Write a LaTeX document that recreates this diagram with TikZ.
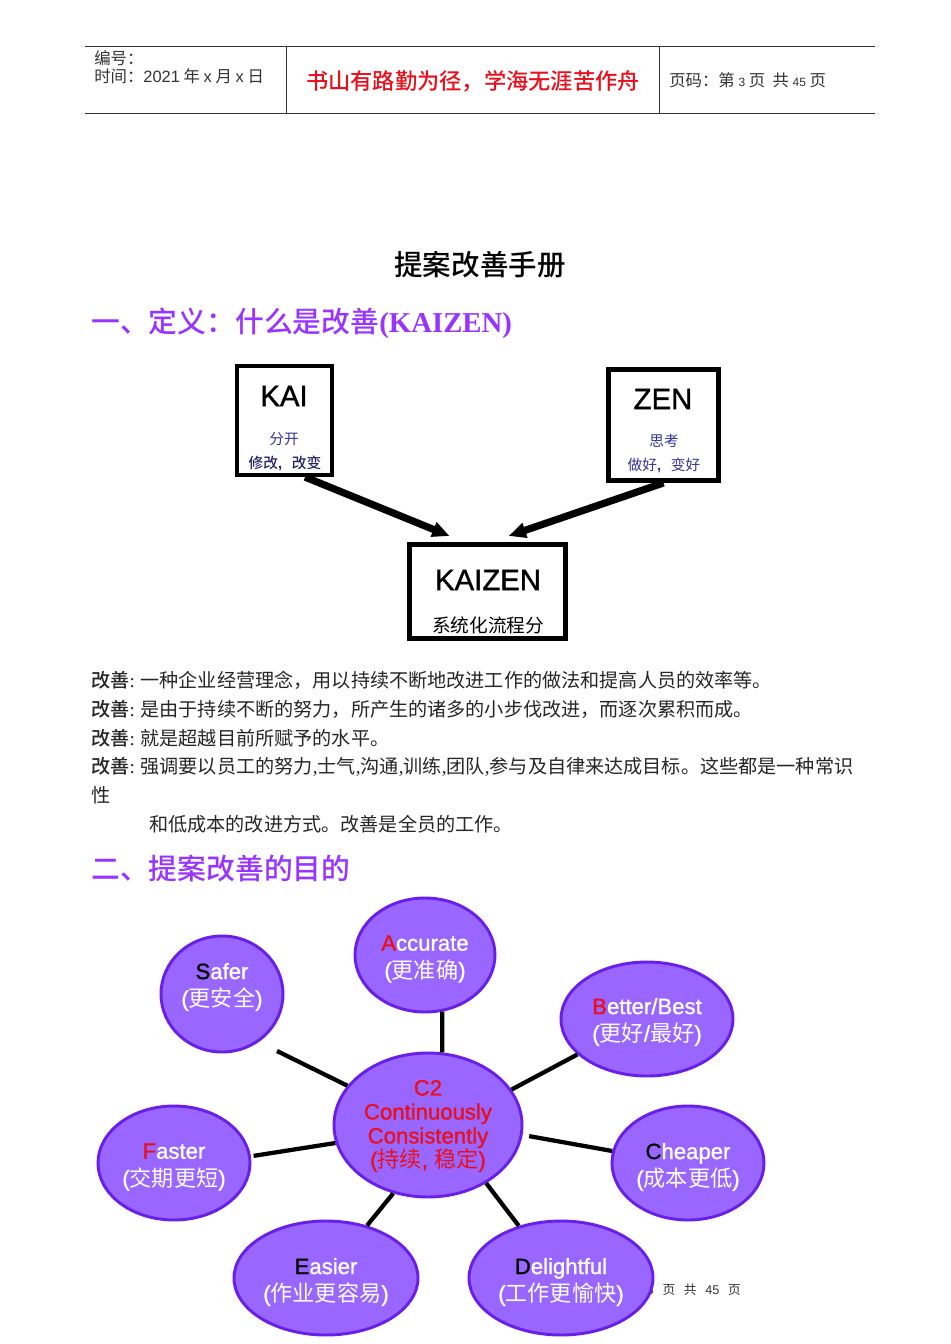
\documentclass[tikz,border=0pt]{standalone}
\usepackage{fontspec}
\setmainfont{Liberation Serif}
\setsansfont{Liberation Sans}
\newfontfamily\cjk{Noto Sans CJK SC}
\newfontfamily\cjkmed{Noto Sans CJK SC Medium}
\newfontfamily\sfheavy[FakeBold=1.2]{Liberation Sans}
\usetikzlibrary{calc}
\usetikzlibrary{positioning}
\usetikzlibrary{arrows.meta}
\usetikzlibrary{shapes.geometric}
\definecolor{headred}{HTML}{E8101C}
\definecolor{headpurple}{HTML}{9933FF}
\definecolor{bubblefill}{HTML}{9966FF}
\definecolor{bubbleline}{HTML}{6A1FE8}
\definecolor{kainavy}{HTML}{333399}
\definecolor{headline}{HTML}{333333}
\newcommand{\redfirst}[1]{\textcolor{headred}{#1}}
\begin{document}
\begin{tikzpicture}[x=0.75pt,y=-0.75pt]
\tikzstyle{headtext}=[anchor=west,inner sep=0,font=\fontsize{12.3pt}{14pt}\selectfont\cjk,text=headline]
\tikzstyle{heading}=[anchor=west,inner sep=0,text=headpurple,font=\fontsize{21.6pt}{24pt}\selectfont\cjkmed]
\tikzstyle{bodyline}=[anchor=west,inner sep=0,font=\fontsize{14.35pt}{16pt}\selectfont\cjk,text=black!85]
\tikzstyle{wordbox}=[rectangle,draw,line width=3.4pt,inner sep=0,fill=white]
\tikzstyle{boxword}=[inner sep=0,font=\fontsize{22pt}{24pt}\selectfont\sfheavy]
\tikzstyle{boxnote}=[inner sep=0,text=kainavy,font=\fontsize{11pt}{13pt}\selectfont\cjk]
\tikzstyle{bigarrow}=[line width=5.4pt,-{Triangle[length=13pt,width=11pt]}]
\tikzstyle{bubble}=[ellipse,draw=bubbleline,line width=2.2pt,fill=bubblefill,inner sep=0]
\tikzstyle{bubbletext}=[inner sep=0,align=center,text=white,font=\fontsize{16.6pt}{20.5pt}\selectfont\sfheavy]
\tikzstyle{spoke}=[line width=3.2pt]
\useasboundingbox (0,0) rectangle (950,1344);
\fill[white] (0,0) rectangle (950,1344);

% page head
\coordinate (headtl) at (85,46);
\coordinate (headtr) at (875,46);
\coordinate (headbl) at (85,113);
\coordinate (headbr) at (875,113);
\coordinate (sepatop) at (286,46);
\coordinate (sepabot) at (286,113);
\coordinate (sepbtop) at (659,46);
\coordinate (sepbbot) at (659,113);
\draw[headline,line width=0.6pt] (headtl) -- (headtr) (headbl) -- (headbr);
\draw[headline,line width=0.5pt] (sepatop) -- (sepabot) (sepbtop) -- (sepbbot);
\node[headtext] (number) at (94,58) {编号：};
\node[headtext] (date) at (94,76) {时间：{\sffamily 2021} 年 {\sffamily x} 月 {\sffamily x} 日};
\node[inner sep=0,text=headred,font=\fontsize{16.7pt}{18pt}\selectfont\cjkmed] (motto) at (473,81) {书山有路勤为径，学海无涯苦作舟};
\node[headtext] (pages) at (669,80.5) {页码：第 {\sffamily\small 3} 页~~共 {\sffamily\small 45} 页};

% title and first part
\node[inner sep=0,font=\fontsize{21.4pt}{24pt}\selectfont\cjkmed] (title) at (480,265) {提案改善手册};
\node[heading] (parta) at (91,323) {一、定义：什么是改善{\rmfamily\bfseries (KAIZEN)}};

\node[wordbox,minimum width=71pt,minimum height=81.5pt] (kai) at (284.5,420.5) {};
\node[wordbox,minimum width=82.5pt,minimum height=83.5pt] (zen) at (663.5,425) {};
\node[wordbox,minimum width=117.3pt,minimum height=70.8pt] (kaizen) at (487.5,591.5) {};
\node[boxword] (kaiword) at (284,396) {KAI};
\node[boxnote] (kainotea) at (284,439) {分开};
\node[boxnote,text=kainavy!70!black,font=\fontsize{11pt}{13pt}\selectfont\cjkmed] (kainoteb) at (285,463) {修改{\sffamily\bfseries ,}~~~改变};
\node[boxword] (zenword) at (663,399) {ZEN};
\node[boxnote] (zennotea) at (664,441) {思考};
\node[boxnote] (zennoteb) at (664,465) {做好{\sffamily\bfseries ,}~~~变好};
\node[boxword] (kaizenword) at (488,580) {KAIZEN};
\node[boxnote,text=black,font=\fontsize{14pt}{16pt}\selectfont\cjk] (kaizennote) at (488,625) {系统化流程分};
\draw[bigarrow,shorten >=12pt] (kai.-70.4) -- (kaizen.115.4);
\draw[bigarrow,shorten >=14pt] (zen.south) -- (kaizen.86);

% text lines
\node[bodyline] (linea) at (91,680) {{\cjkmed 改善}{\rmfamily :} 一种企业经营理念，用以持续不断地改进工作的做法和提高人员的效率等。};
\node[bodyline] (lineb) at (91,709) {{\cjkmed 改善}{\rmfamily :} 是由于持续不断的努力，所产生的诸多的小步伐改进，而逐次累积而成。};
\node[bodyline] (linec) at (91,738) {{\cjkmed 改善}{\rmfamily :} 就是超越目前所赋予的水平。};
\node[bodyline] (lined) at (91,767) {{\cjkmed 改善}{\rmfamily :} 强调要以员工的努力{\rmfamily ,}士气{\rmfamily ,}沟通{\rmfamily ,}训练{\rmfamily ,}团队{\rmfamily ,}参与及自律来达成目标。这些都是一种常识};
\node[bodyline] (linee) at (91,795) {性};
\node[bodyline] (linef) at (149,824) {和低成本的改进方式。改善是全员的工作。};
\node[heading] (partb) at (91,869) {二、提案改善的目的};

% footer sits under the last bubble
\node[anchor=east,inner sep=0,font=\fontsize{9.5pt}{11pt}\selectfont\cjk,text=headline] (footer) at (741,1290) {3\hspace{6.5pt}页\hspace{6.5pt}共\hspace{6.5pt}{\sffamily 45}\hspace{6.5pt}页};

% bubbles
\node[bubble,minimum width=91.5pt,minimum height=87pt] (safer) at (222,994) {};
\node[bubble,minimum width=105pt,minimum height=85.5pt] (accurate) at (425,955) {};
\node[bubble,minimum width=129pt,minimum height=85.5pt] (better) at (647,1019) {};
\node[bubble,minimum width=114pt,minimum height=85.5pt] (cheaper) at (688,1163) {};
\node[bubble,minimum width=138pt,minimum height=85.5pt] (delightful) at (561,1278) {};
\node[bubble,minimum width=138pt,minimum height=85.5pt] (easier) at (326,1278) {};
\node[bubble,minimum width=114pt,minimum height=85.5pt] (faster) at (174,1163) {};
\node[bubble,minimum width=141pt,minimum height=108pt] (ctwo) at (428,1125) {};

\node[bubbletext] (safertext) at (222,987) {\textcolor{black}{S}afer\\({\cjk 更安全})};
\node[bubbletext] (accuratetext) at (425,959) {\redfirst{A}ccurate\\({\cjk 更准确})};
\node[bubbletext] (bettertext) at (647,1022) {\redfirst{B}etter/Best\\({\cjk 更好}/{\cjk 最好})};
\node[bubbletext] (cheapertext) at (688,1167) {\textcolor{black}{C}heaper\\({\cjk 成本更低})};
\node[bubbletext] (delightfultext) at (561,1282) {\textcolor{black}{D}elightful\\({\cjk 工作更愉快})};
\node[bubbletext] (easiertext) at (326,1282) {\textcolor{black}{E}asier\\({\cjk 作业更容易})};
\node[bubbletext] (fastertext) at (174,1167) {\redfirst{F}aster\\({\cjk 交期更短})};
\node[bubbletext,text=headred,font=\fontsize{16.6pt}{18pt}\selectfont\sfheavy] (ctwotext) at (428,1126) {C2\\Continuously\\Consistently\\({\cjk 持续}, {\cjk 稳定})};

% spokes
\coordinate (saferend) at (277,1051);
\draw[spoke] (saferend) -- (ctwo.154);
\draw[spoke] (accurate.-73.4) -- (ctwo.79);
\draw[spoke] (better.207) -- (ctwo.23.4);
\draw[spoke,shorten >=5pt] (cheaper.171) -- (ctwo.-6.8);
\draw[spoke] (delightful.129) -- (ctwo.-45);
\draw[spoke] (easier.52) -- (ctwo.-117);
\draw[spoke,shorten <=2pt] (faster.5) -- (ctwo.191.7);
\end{tikzpicture}
\end{document}
